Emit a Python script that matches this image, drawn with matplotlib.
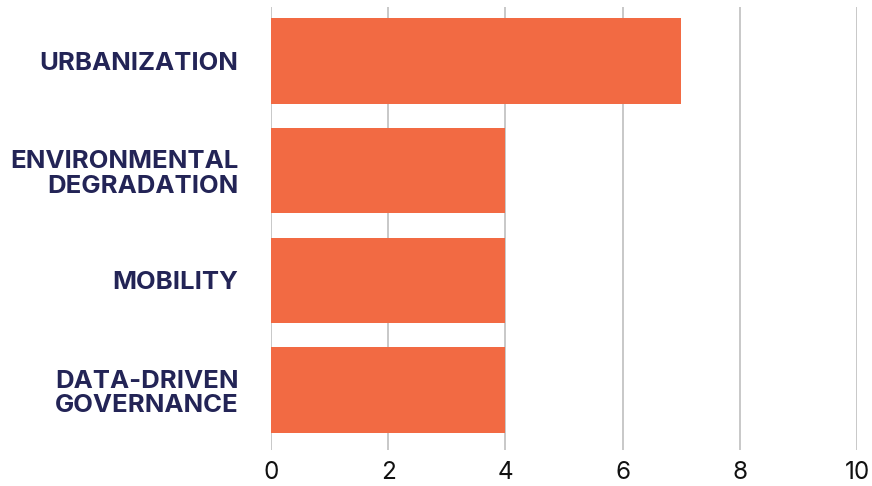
import matplotlib
matplotlib.use("Agg")
import matplotlib.pyplot as plt

# Drivers and their scores
categories = ["URBANIZATION", "ENVIRONMENTAL\nDEGRADATION", "MOBILITY", "DATA-DRIVEN\nGOVERNANCE"]
scores = [7, 4, 4, 4]
x_ticks = [0, 2, 4, 6, 8, 10]

bar_color = "#F26A43"
label_color = "#232456"
grid_color = "#bfbfbf"

plt.rcParams["font.family"] = ["Inter", "DejaVu Sans"]

fig = plt.figure(figsize=(8.72, 4.86), dpi=100)
ax = fig.add_axes([0.3108, 0.074, 0.672, 0.9116])

ypos = list(range(len(categories)))
ax.barh(ypos, scores, height=0.78, color=bar_color, zorder=2)

ax.set_xlim(0, 10)
ax.set_ylim(3.545, -0.49)
ax.set_xticks(x_ticks)
ax.set_xticklabels([str(t) for t in x_ticks], fontsize=17.5, color="#111111")
ax.set_yticks(ypos)
ax.set_yticklabels(categories, fontsize=18.5, fontweight="bold", color=label_color,
                   linespacing=1.1)
ax.tick_params(axis="both", length=0)
ax.tick_params(axis="x", pad=8)
ax.tick_params(axis="y", pad=23.5)

ax.grid(axis="x", color=grid_color, linewidth=1.2, zorder=0)
ax.set_axisbelow(True)
for s in ax.spines.values():
    s.set_visible(False)

fig.savefig("out.png", dpi=100)
